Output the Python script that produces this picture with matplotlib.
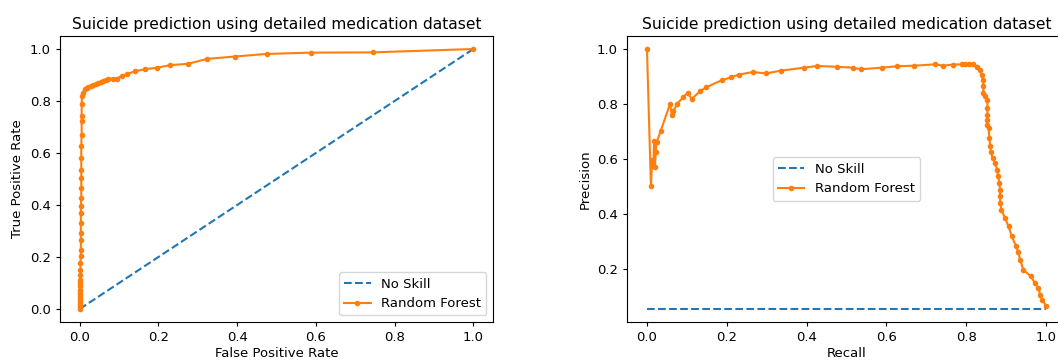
#!/usr/bin/env python3
"""
ROC and precision-recall curves for the random forest suicide prediction model
(detailed medication dataset), values read off the published figure.
"""
import matplotlib
matplotlib.use('Agg')
import matplotlib.pyplot as plt

TITLE = 'Suicide prediction using detailed medication dataset'

# ROC curve: no-skill diagonal and random forest
ns_fpr = [0.0, 1.0]
ns_tpr = [0.0, 1.0]

rf_fpr = [0.0, 0.0, 0.0, 0.001, 0.001, 0.001, 0.001, 0.002, 0.002, 0.002,
          0.002, 0.002, 0.002, 0.002, 0.003, 0.003, 0.003, 0.003, 0.003, 0.003,
          0.003, 0.004, 0.004, 0.004, 0.004, 0.004, 0.004, 0.005, 0.005, 0.005,
          0.005, 0.006, 0.008, 0.013, 0.018, 0.022, 0.028, 0.035, 0.041, 0.047,
          0.054, 0.060, 0.066, 0.073, 0.085, 0.094, 0.107, 0.121, 0.140, 0.165,
          0.197, 0.230, 0.275, 0.324, 0.394, 0.475, 0.587, 0.744, 1.0]
rf_tpr = [0.0, 0.010, 0.020, 0.029, 0.040, 0.050, 0.062, 0.075, 0.087, 0.100,
          0.113, 0.132, 0.151, 0.177, 0.203, 0.228, 0.267, 0.292, 0.331, 0.369,
          0.395, 0.427, 0.465, 0.504, 0.536, 0.581, 0.626, 0.671, 0.722, 0.741,
          0.790, 0.818, 0.830, 0.846, 0.850, 0.852, 0.856, 0.860, 0.864, 0.869,
          0.873, 0.878, 0.882, 0.886, 0.886, 0.886, 0.897, 0.904, 0.914, 0.922,
          0.928, 0.938, 0.943, 0.962, 0.971, 0.981, 0.986, 0.987, 1.0]

# Precision-recall curve
no_skill = 0.0545
rf_recall = [0.0, 0.010, 0.013, 0.016, 0.018, 0.020, 0.022, 0.024, 0.034, 0.058,
             0.062, 0.066, 0.076, 0.091, 0.102, 0.112, 0.133, 0.148, 0.187, 0.211,
             0.231, 0.265, 0.298, 0.336, 0.394, 0.427, 0.475, 0.517, 0.536, 0.589,
             0.627, 0.669, 0.723, 0.742, 0.766, 0.790, 0.798, 0.807, 0.818, 0.828,
             0.835, 0.839, 0.842, 0.843, 0.843, 0.847, 0.853, 0.853, 0.853, 0.853,
             0.853, 0.856, 0.858, 0.860, 0.862, 0.866, 0.873, 0.877, 0.880, 0.883,
             0.885, 0.885, 0.885, 0.888, 0.897, 0.906, 0.914, 0.925, 0.930, 0.935,
             0.943, 0.962, 0.972, 0.981, 0.985, 0.990, 1.0]
rf_precision = [1.0, 0.500, 0.597, 0.573, 0.667, 0.570, 0.625, 0.660, 0.700, 0.801,
                0.761, 0.773, 0.801, 0.825, 0.840, 0.818, 0.846, 0.860, 0.886, 0.897,
                0.907, 0.916, 0.911, 0.921, 0.932, 0.938, 0.935, 0.932, 0.926, 0.932,
                0.937, 0.939, 0.944, 0.939, 0.943, 0.944, 0.944, 0.944, 0.945, 0.935,
                0.922, 0.906, 0.888, 0.864, 0.840, 0.828, 0.813, 0.785, 0.761, 0.743,
                0.725, 0.713, 0.676, 0.648, 0.624, 0.604, 0.585, 0.561, 0.537, 0.513,
                0.488, 0.464, 0.440, 0.416, 0.385, 0.355, 0.319, 0.282, 0.262, 0.234,
                0.197, 0.173, 0.149, 0.131, 0.107, 0.088, 0.066]

BLUE = '#1f77b4'
ORANGE = '#ff7f0e'
LW = 1.5
MS = 6
FS = 9.5

fig = plt.figure(figsize=(10.58, 3.6), dpi=100)
plt.rcParams['font.family'] = 'DejaVu Sans'

# left: ROC
ax1 = fig.add_axes([60 / 1058, 38 / 360, 433 / 1058, 286 / 360])
ax1.plot(ns_fpr, ns_tpr, linestyle='--', color=BLUE, linewidth=LW, label='No Skill')
ax1.plot(rf_fpr, rf_tpr, marker='.', color=ORANGE, linewidth=LW, markersize=MS,
         label='Random Forest')
ax1.set_xlim(-0.05, 1.05)
ax1.set_ylim(-0.05, 1.05)
ax1.set_xticks([0.0, 0.2, 0.4, 0.6, 0.8, 1.0])
ax1.set_yticks([0.0, 0.2, 0.4, 0.6, 0.8, 1.0])
ax1.set_xlabel('False Positive Rate', fontsize=FS, labelpad=2)
ax1.set_ylabel('True Positive Rate', fontsize=FS)
ax1.set_title(TITLE, fontsize=11.2, pad=5)
ax1.tick_params(labelsize=FS, length=3)
ax1.legend(loc='lower right', fontsize=FS)

# right: precision-recall, runs past the right edge of the image
ax2 = fig.add_axes([627 / 1058, 38 / 360, 439 / 1058, 286 / 360])
ax2.plot([0, 1], [no_skill, no_skill], linestyle='--', color=BLUE, linewidth=LW,
         label='No Skill')
ax2.plot(rf_recall, rf_precision, marker='.', color=ORANGE, linewidth=LW,
         markersize=MS, label='Random Forest')
ax2.set_xlim(-0.05, 1.05)
ax2.set_ylim(0.0072, 1.047)
ax2.set_xticks([0.0, 0.2, 0.4, 0.6, 0.8, 1.0])
ax2.set_yticks([0.2, 0.4, 0.6, 0.8, 1.0])
ax2.set_xlabel('Recall', fontsize=FS, labelpad=2)
ax2.set_ylabel('Precision', fontsize=FS)
ax2.set_title(TITLE, fontsize=11.2, pad=5)
ax2.tick_params(labelsize=FS, length=3)
ax2.legend(loc='center', fontsize=FS)

fig.savefig('out.png', dpi=100)
